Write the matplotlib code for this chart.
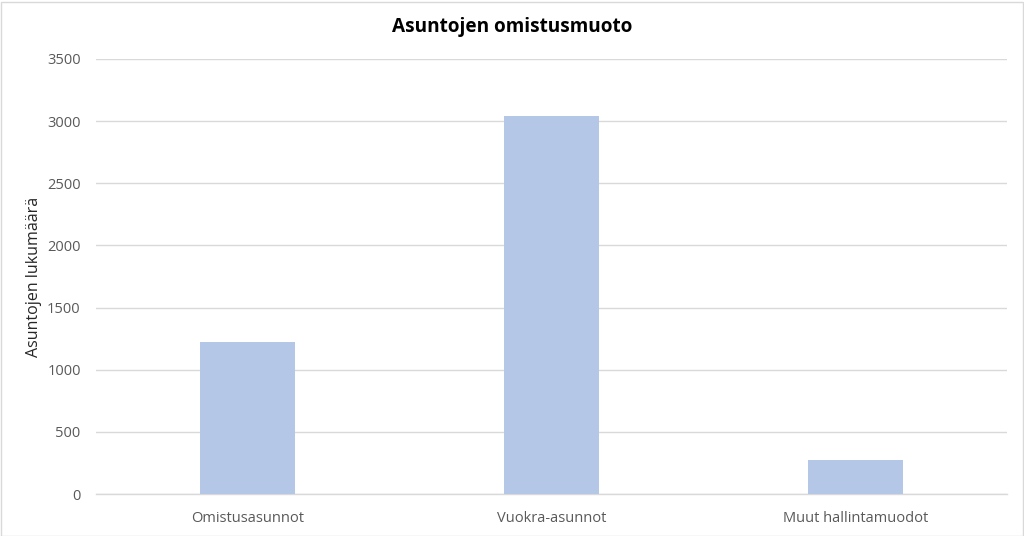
import matplotlib
matplotlib.use("Agg")
import matplotlib.pyplot as plt
from matplotlib.patches import Rectangle

categories = ["Omistusasunnot", "Vuokra-asunnot", "Muut hallintamuodot"]
values = [1225, 3041, 271]
yticks = [0, 500, 1000, 1500, 2000, 2500, 3000, 3500]

plt.rcParams["font.family"] = ["Open Sans", "DejaVu Sans"]

fig = plt.figure(figsize=(10.24, 5.36), dpi=100)
ax = fig.add_axes([96 / 1024, 42 / 536, 911 / 1024, 435 / 536])

x = list(range(len(categories)))
ax.bar(x, values, width=0.313, color="#b4c7e7", zorder=3)

ax.set_xlim(-0.5, len(categories) - 0.5)
ax.set_ylim(0, 3500)
ax.set_yticks(yticks)
ax.set_xticks(x)
ax.set_xticklabels(categories)
ax.tick_params(axis="both", length=0, colors="#595959", labelsize=10.5)
ax.tick_params(axis="y", pad=11)
ax.tick_params(axis="x", pad=12)
ax.grid(axis="y", color="#d9d9d9", linewidth=1, zorder=0)
for side in ("top", "right", "left"):
    ax.spines[side].set_visible(False)
ax.spines["bottom"].set_color("#d9d9d9")
ax.spines["bottom"].set_linewidth(1)

ax.set_ylabel("Asuntojen lukumäärä", fontsize=11.5, color="#262626")
ax.yaxis.set_label_coords(-(96 - 42) / 911, 0.5)
fig.text(0.5, 1 - 27 / 536, "Asuntojen omistusmuoto", ha="center", va="center",
         fontsize=13.7, fontweight="bold", color="black")

fig.patches.append(Rectangle((0.5 / 1024, 0.5 / 536), 1 - 2 / 1024, 1 - 2 / 536,
                             transform=fig.transFigure, fill=False,
                             edgecolor="#d9d9d9", linewidth=1))

fig.savefig("out.png", dpi=100)
